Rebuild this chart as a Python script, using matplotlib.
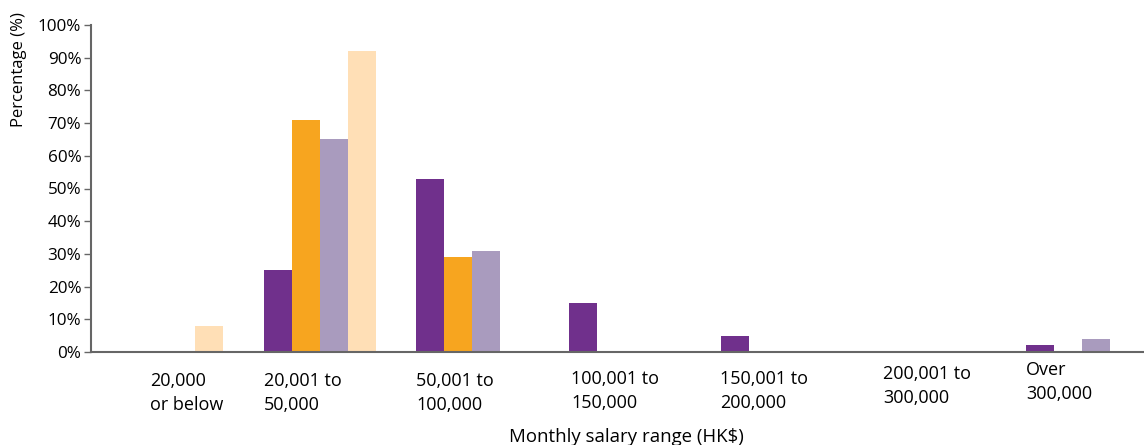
import matplotlib
matplotlib.use("Agg")
import matplotlib.pyplot as plt
import matplotlib.transforms as mtransforms
import numpy as np

categories = ["20,000\nor below", "20,001 to\n50,000", "50,001 to\n100,000",
              "100,001 to\n150,000", "150,001 to\n200,000", "200,001 to\n300,000",
              "Over\n300,000"]
series_purple = [0, 25, 53, 15, 5, 0, 2]
series_orange = [0, 71, 29, 0, 0, 0, 0]
series_lavender = [0, 65, 31, 0, 0, 0, 4]
series_peach = [8, 92, 0, 0, 0, 0, 0]
yticks = [0, 10, 20, 30, 40, 50, 60, 70, 80, 90, 100]
ytick_labels = [f"{v}%" for v in yticks]

colors = ["#70308C", "#F7A51F", "#A99BBE", "#FFDFB6"]
series = [series_purple, series_orange, series_lavender, series_peach]

plt.rcParams['font.family'] = ['Open Sans', 'DejaVu Sans']

fig = plt.figure(figsize=(11.44, 4.45), dpi=100)
ax = fig.add_axes([91/1144, (445-352)/445, 1 - 91/1144, (352-25)/445])

x = np.arange(len(categories))
w = 28/152.5
for i, (vals, c) in enumerate(zip(series, colors)):
    ax.bar(x - 1.5*w + i*w, vals, width=w, color=c, edgecolor='none', zorder=2)

ax.set_xlim(-0.5, 6 + (1144-1082)/152.5)
ax.set_ylim(0, 100)
ax.set_yticks(yticks)
ax.set_yticklabels(ytick_labels, fontsize=12.3)
ax.tick_params(axis='y', length=5, width=1, color='#666666', pad=2)
ax.set_xticks([])
for s in ['top', 'right']:
    ax.spines[s].set_visible(False)
for s in ['left', 'bottom']:
    ax.spines[s].set_color('#666666')
    ax.spines[s].set_linewidth(1.5)

# category labels (left aligned, per-label pixel offsets)
x_off_px = [-17, -55.5, -56, -53.5, -57, -46.5, -56]
y_top_px = [372, 372, 372, 370, 370, 365, 361]
for i, lab in enumerate(categories):
    trans = mtransforms.offset_copy(ax.transData, fig=fig, x=x_off_px[i]*0.72, y=0, units='points')
    tr = mtransforms.blended_transform_factory(trans, fig.transFigure)
    ax.text(i, 1 - y_top_px[i]/445, lab, transform=tr, ha='left', va='top',
            fontsize=13, linespacing=1.45, clip_on=False)

fig.text(626/1144, 1 - 437/445, "Monthly salary range (HK$)", ha='center', va='center', fontsize=13.4)
fig.text(19/1144, 1 - 70/445, "Percentage (%)", ha='center', va='center', rotation=90, fontsize=12)

fig.savefig("out.png", dpi=100)
